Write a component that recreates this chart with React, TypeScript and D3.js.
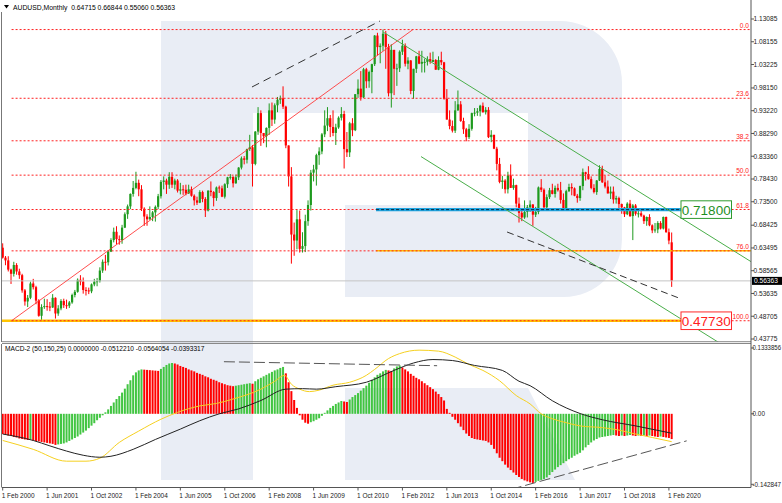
import React from 'react';
import * as d3 from 'd3';

// ---------- Monthly AUDUSD candles, Feb 2000 .. Mar 2020 ----------
const opens = [
  0.6355, 0.6140, 0.6080, 0.5880, 0.5790, 0.5980, 0.5840, 0.5760, 0.5430, 0.5190, 0.5270,
  0.5580, 0.5500, 0.5210, 0.4880, 0.5070, 0.5090, 0.5080, 0.5060, 0.5270, 0.4930, 0.5040, 0.5200,
  0.5110, 0.5100, 0.5170, 0.5330, 0.5400, 0.5660, 0.5620, 0.5440, 0.5430, 0.5410, 0.5560, 0.5620,
  0.5630, 0.5860, 0.6050, 0.6040, 0.6270, 0.6520, 0.6700, 0.6540, 0.6520, 0.6790, 0.7080, 0.7250,
  0.7520, 0.7650, 0.7760, 0.7620, 0.7200, 0.7030, 0.6970, 0.7020, 0.7120, 0.7240, 0.7470, 0.7780,
  0.7810, 0.7720, 0.7890, 0.7720, 0.7810, 0.7590, 0.7620, 0.7610, 0.7530, 0.7620, 0.7480, 0.7380,
  0.7330, 0.7560, 0.7410, 0.7160, 0.7590, 0.7560, 0.7430, 0.7660, 0.7640, 0.7460, 0.7730, 0.7880,
  0.7890, 0.7750, 0.7880, 0.8090, 0.8290, 0.8260, 0.8490, 0.8530, 0.8170, 0.8870, 0.9270, 0.8840,
  0.8770, 0.8950, 0.9330, 0.9130, 0.9440, 0.9560, 0.9590, 0.9410, 0.8570, 0.7900, 0.6640, 0.6510,
  0.6970, 0.6330, 0.6390, 0.6930, 0.7280, 0.7980, 0.8050, 0.8360, 0.8440, 0.8810, 0.9000, 0.9160,
  0.8970, 0.8840, 0.8960, 0.9170, 0.9250, 0.8490, 0.8420, 0.9050, 0.8900, 0.9680, 0.9800, 0.9610,
  1.0220, 0.9960, 1.0160, 1.0330, 1.0950, 1.0700, 1.0730, 1.0990, 1.0700, 0.9700, 1.0640, 1.0230,
  1.0240, 1.0600, 1.0730, 1.0340, 1.0410, 0.9750, 1.0230, 1.0500, 1.0340, 1.0380, 1.0380, 1.0440,
  1.0380, 1.0420, 1.0210, 1.0420, 1.0370, 0.9580, 0.9130, 0.8990, 0.8890, 0.9330, 0.9460, 0.9100,
  0.8920, 0.8750, 0.8930, 0.9270, 0.9280, 0.9310, 0.9430, 0.9290, 0.9340, 0.8750, 0.8800, 0.8500,
  0.8170, 0.7780, 0.7810, 0.7620, 0.7920, 0.7650, 0.7710, 0.7310, 0.7110, 0.7010, 0.7130, 0.7230,
  0.7290, 0.7070, 0.7130, 0.7660, 0.7610, 0.7230, 0.7450, 0.7600, 0.7520, 0.7650, 0.7600, 0.7390,
  0.7210, 0.7580, 0.7670, 0.7640, 0.7480, 0.7430, 0.7690, 0.7990, 0.7950, 0.7840, 0.7650, 0.7560,
  0.7810, 0.8060, 0.7770, 0.7680, 0.7530, 0.7570, 0.7400, 0.7430, 0.7300, 0.7230, 0.7080, 0.7310,
  0.7040, 0.7270, 0.7090, 0.7100, 0.7050, 0.6930, 0.7020, 0.6840, 0.6730, 0.6750, 0.6890, 0.6770,
  0.7020, 0.6690, 0.64715,
];
const highs = [
  0.6450, 0.6175, 0.6170, 0.5900, 0.6050, 0.6020, 0.5900, 0.5790, 0.5460, 0.5330, 0.5620,
  0.5680, 0.5530, 0.5240, 0.5130, 0.5250, 0.5240, 0.5180, 0.5350, 0.5280, 0.5110, 0.5240, 0.5250,
  0.5230, 0.5200, 0.5360, 0.5440, 0.5690, 0.5760, 0.5710, 0.5500, 0.5490, 0.5580, 0.5680, 0.5700,
  0.5930, 0.6100, 0.6200, 0.6300, 0.6560, 0.6790, 0.6820, 0.6620, 0.6850, 0.7120, 0.7290, 0.7530,
  0.7800, 0.8000, 0.7830, 0.7710, 0.7230, 0.7080, 0.7250, 0.7150, 0.7270, 0.7520, 0.7820, 0.7900,
  0.7850, 0.7990, 0.7990, 0.7850, 0.7840, 0.7760, 0.7710, 0.7720, 0.7720, 0.7680, 0.7510, 0.7460,
  0.7600, 0.7590, 0.7450, 0.7600, 0.7790, 0.7580, 0.7680, 0.7700, 0.7700, 0.7750, 0.7890, 0.7950,
  0.7900, 0.7940, 0.8100, 0.8330, 0.8340, 0.8500, 0.8800, 0.8580, 0.8880, 0.9400, 0.9330, 0.8840,
  0.8960, 0.9480, 0.9500, 0.9480, 0.9620, 0.9650, 0.9850, 0.9430, 0.8570, 0.8100, 0.6900, 0.7170,
  0.7160, 0.6690, 0.7070, 0.7380, 0.8040, 0.8150, 0.8390, 0.8530, 0.8840, 0.9330, 0.9400, 0.9230,
  0.9330, 0.9040, 0.9200, 0.9400, 0.9320, 0.8860, 0.9080, 0.9160, 0.9680, 1.0000, 1.0180, 1.0250,
  1.0250, 1.0190, 1.0340, 1.0960, 1.1010, 1.0780, 1.1080, 1.1050, 1.0770, 1.0760, 1.0640, 1.0340,
  1.0630, 1.0860, 1.0780, 1.0480, 1.0420, 1.0230, 1.0510, 1.0620, 1.0620, 1.0450, 1.0500, 1.0580,
  1.0600, 1.0440, 1.0500, 1.0600, 1.0380, 0.9790, 0.9330, 0.9110, 0.9530, 0.9760, 0.9530, 0.9170,
  0.8950, 0.9030, 0.9280, 0.9380, 0.9380, 0.9450, 0.9500, 0.9400, 0.9400, 0.8900, 0.8800, 0.8540,
  0.8300, 0.7910, 0.7840, 0.8000, 0.8160, 0.7850, 0.7720, 0.7440, 0.7160, 0.7380, 0.7280, 0.7380,
  0.7300, 0.7240, 0.7680, 0.7840, 0.7640, 0.7510, 0.7650, 0.7740, 0.7700, 0.7740, 0.7780, 0.7530,
  0.7610, 0.7740, 0.7750, 0.7660, 0.7520, 0.7700, 0.8070, 0.8000, 0.8120, 0.7900, 0.7730, 0.7820,
  0.8140, 0.8130, 0.7920, 0.7810, 0.7680, 0.7680, 0.7480, 0.7460, 0.7310, 0.7240, 0.7340, 0.7390,
  0.7300, 0.7300, 0.7190, 0.7210, 0.7070, 0.7030, 0.7080, 0.6860, 0.6890, 0.6930, 0.6930, 0.7030,
  0.7030, 0.6770, 0.66844,
];
const lows = [
  0.6120, 0.5975, 0.5840, 0.5570, 0.5730, 0.5770, 0.5680, 0.5380, 0.5100, 0.5070, 0.5240,
  0.5450, 0.5130, 0.4860, 0.4773, 0.5030, 0.4990, 0.4980, 0.5050, 0.4820, 0.4880, 0.5000, 0.5050,
  0.5030, 0.5050, 0.5140, 0.5280, 0.5380, 0.5540, 0.5360, 0.5320, 0.5350, 0.5370, 0.5520, 0.5520,
  0.5600, 0.5810, 0.5860, 0.5970, 0.6260, 0.6470, 0.6430, 0.6420, 0.6440, 0.6780, 0.6980, 0.7190,
  0.7460, 0.7620, 0.7470, 0.7150, 0.6830, 0.6830, 0.6960, 0.6930, 0.6920, 0.7190, 0.7420, 0.7620,
  0.7520, 0.7630, 0.7650, 0.7620, 0.7550, 0.7510, 0.7500, 0.7490, 0.7520, 0.7460, 0.7270, 0.7280,
  0.7320, 0.7340, 0.7020, 0.7140, 0.7470, 0.7250, 0.7370, 0.7540, 0.7450, 0.7420, 0.7650, 0.7830,
  0.7660, 0.7740, 0.7820, 0.8050, 0.8160, 0.8180, 0.8450, 0.7680, 0.8140, 0.8800, 0.8560, 0.8620,
  0.8530, 0.8800, 0.8990, 0.9040, 0.9290, 0.9470, 0.9360, 0.8510, 0.7680, 0.6010, 0.6180, 0.6320,
  0.6250, 0.6250, 0.6260, 0.6830, 0.7160, 0.7790, 0.7700, 0.8150, 0.8380, 0.8750, 0.8880, 0.8750,
  0.8770, 0.8580, 0.8930, 0.9110, 0.8070, 0.8320, 0.8320, 0.8770, 0.8880, 0.9600, 0.9540, 0.9600,
  0.9810, 0.9820, 0.9700, 1.0290, 1.0520, 1.0350, 1.0620, 1.0230, 0.9630, 0.9390, 0.9660, 0.9860,
  1.0160, 1.0530, 1.0280, 1.0220, 0.9680, 0.9580, 1.0140, 1.0330, 1.0150, 1.0150, 1.0300, 1.0340,
  1.0380, 1.0210, 1.0200, 1.0310, 0.9560, 0.9130, 0.8920, 0.8850, 0.8840, 0.9320, 0.9080, 0.8820,
  0.8660, 0.8710, 0.8890, 0.9200, 0.9210, 0.9200, 0.9280, 0.9240, 0.8730, 0.8640, 0.8490, 0.8030,
  0.7750, 0.7630, 0.7530, 0.7530, 0.7650, 0.7610, 0.7230, 0.6900, 0.6930, 0.6980, 0.7010, 0.7130,
  0.6830, 0.7020, 0.7080, 0.7560, 0.7150, 0.7150, 0.7410, 0.7510, 0.7440, 0.7570, 0.7310, 0.7160,
  0.7180, 0.7560, 0.7490, 0.7470, 0.7330, 0.7370, 0.7600, 0.7810, 0.7830, 0.7620, 0.7530, 0.7500,
  0.7800, 0.7760, 0.7640, 0.7530, 0.7410, 0.7310, 0.7310, 0.7200, 0.7090, 0.7020, 0.7060, 0.7020,
  0.6520, 0.7050, 0.7010, 0.7020, 0.6870, 0.6830, 0.6820, 0.6670, 0.6680, 0.6670, 0.6750, 0.6750,
  0.6680, 0.6430, 0.55060,
];
const closes = [
  0.6140, 0.6080, 0.5880, 0.5790, 0.5980, 0.5840, 0.5760, 0.5430, 0.5190, 0.5270, 0.5580,
  0.5500, 0.5210, 0.4880, 0.5070, 0.5090, 0.5080, 0.5060, 0.5270, 0.4930, 0.5040, 0.5200, 0.5110,
  0.5100, 0.5170, 0.5330, 0.5400, 0.5660, 0.5620, 0.5440, 0.5430, 0.5410, 0.5560, 0.5620, 0.5630,
  0.5860, 0.6050, 0.6040, 0.6270, 0.6520, 0.6700, 0.6540, 0.6520, 0.6790, 0.7080, 0.7250, 0.7520,
  0.7650, 0.7760, 0.7620, 0.7200, 0.7030, 0.6970, 0.7020, 0.7120, 0.7240, 0.7470, 0.7780, 0.7810,
  0.7720, 0.7890, 0.7720, 0.7810, 0.7590, 0.7620, 0.7610, 0.7530, 0.7620, 0.7480, 0.7380, 0.7330,
  0.7560, 0.7410, 0.7160, 0.7590, 0.7560, 0.7430, 0.7660, 0.7640, 0.7460, 0.7730, 0.7880, 0.7890,
  0.7750, 0.7880, 0.8090, 0.8290, 0.8260, 0.8490, 0.8530, 0.8170, 0.8870, 0.9270, 0.8840, 0.8770,
  0.8950, 0.9330, 0.9130, 0.9440, 0.9560, 0.9590, 0.9410, 0.8570, 0.7900, 0.6640, 0.6510, 0.6970,
  0.6330, 0.6390, 0.6930, 0.7280, 0.7980, 0.8050, 0.8360, 0.8440, 0.8810, 0.9000, 0.9160, 0.8970,
  0.8840, 0.8960, 0.9170, 0.9250, 0.8490, 0.8420, 0.9050, 0.8900, 0.9680, 0.9800, 0.9610, 1.0220,
  0.9960, 1.0160, 1.0330, 1.0950, 1.0700, 1.0730, 1.0990, 1.0700, 0.9700, 1.0640, 1.0230, 1.0240,
  1.0600, 1.0730, 1.0340, 1.0410, 0.9750, 1.0230, 1.0500, 1.0340, 1.0380, 1.0380, 1.0440, 1.0380,
  1.0420, 1.0210, 1.0420, 1.0370, 0.9580, 0.9130, 0.8990, 0.8890, 0.9330, 0.9460, 0.9100, 0.8920,
  0.8750, 0.8930, 0.9270, 0.9280, 0.9310, 0.9430, 0.9290, 0.9340, 0.8750, 0.8800, 0.8500, 0.8170,
  0.7780, 0.7810, 0.7620, 0.7920, 0.7650, 0.7710, 0.7310, 0.7110, 0.7010, 0.7130, 0.7230, 0.7290,
  0.7070, 0.7130, 0.7660, 0.7610, 0.7230, 0.7450, 0.7600, 0.7520, 0.7650, 0.7600, 0.7390, 0.7210,
  0.7580, 0.7670, 0.7640, 0.7480, 0.7430, 0.7690, 0.7990, 0.7950, 0.7840, 0.7650, 0.7560, 0.7810,
  0.8060, 0.7770, 0.7680, 0.7530, 0.7570, 0.7400, 0.7430, 0.7300, 0.7230, 0.7080, 0.7310, 0.7040,
  0.7270, 0.7090, 0.7100, 0.7050, 0.6930, 0.7020, 0.6840, 0.6730, 0.6750, 0.6890, 0.6770, 0.7020,
  0.6690, 0.6510, 0.56363,
];

// ---------- MACD-2 (50,150,25) histogram, one value per month ----------
const histValues = [
  -0.041, -0.042, -0.044, -0.045, -0.047, -0.048, -0.050, -0.051, -0.052, -0.053,
  -0.052, -0.054, -0.055, -0.056, -0.057, -0.058, -0.059, -0.060, -0.061, -0.063,
  -0.062, -0.061, -0.060, -0.058, -0.055, -0.052, -0.049, -0.046, -0.042, -0.038,
  -0.034, -0.029, -0.024, -0.019, -0.013, -0.008, -0.003, 0.003, 0.009, 0.016,
  0.023, 0.030, 0.036, 0.043, 0.051, 0.060, 0.068, 0.078, 0.084, 0.088,
  0.090, 0.0895, 0.089, 0.0885, 0.088, 0.0875, 0.087, 0.091, 0.095, 0.099,
  0.102, 0.103, 0.102, 0.100, 0.097, 0.095, 0.093, 0.090, 0.088, 0.086,
  0.083, 0.081, 0.079, 0.076, 0.074, 0.071, 0.069, 0.067, 0.064, 0.062,
  0.060, 0.058, 0.057, 0.056, 0.057, 0.058, 0.059, 0.060, 0.061, 0.062,
  0.061, 0.066, 0.070, 0.073, 0.076, 0.079, 0.082, 0.085, 0.088, 0.090,
  0.093, 0.095, 0.082, 0.064, 0.046, 0.028, 0.012, -0.003, -0.012, -0.018,
  -0.020, -0.017, -0.015, -0.012, -0.009, -0.004, 0.002, 0.007, 0.012, 0.016,
  0.020, 0.023, 0.026, 0.025, 0.024, 0.029, 0.034, 0.038, 0.042, 0.047,
  0.052, 0.057, 0.063, 0.069, 0.074, 0.079, 0.082, 0.086, 0.089, 0.088,
  0.087, 0.092, 0.096, 0.098, 0.094, 0.090, 0.086, 0.081, 0.077, 0.073,
  0.070, 0.066, 0.062, 0.058, 0.054, 0.050, 0.045, 0.040, 0.034, 0.027,
  0.010, 0.002, -0.006, -0.012, -0.019, -0.026, -0.033, -0.040, -0.045, -0.049,
  -0.051, -0.052, -0.053, -0.054, -0.055, -0.058, -0.063, -0.071, -0.080, -0.089,
  -0.096, -0.103, -0.109, -0.114, -0.119, -0.124, -0.128, -0.132, -0.135, -0.137,
  -0.139, -0.140, -0.138, -0.136, -0.134, -0.132, -0.129, -0.124, -0.118, -0.113,
  -0.108, -0.104, -0.100, -0.096, -0.092, -0.089, -0.085, -0.082, -0.079, -0.074,
  -0.068, -0.063, -0.058, -0.054, -0.051, -0.048, -0.047, -0.046, -0.045, -0.044,
  -0.043, -0.044, -0.045, -0.044, -0.045, -0.044, -0.043, -0.044, -0.045, -0.044,
  -0.045, -0.044, -0.045, -0.044, -0.045, -0.046, -0.047, -0.046, -0.047, -0.048,
  -0.049, -0.0512,
];
// MACD lines, sampled months
const blackIdx = [0, 11, 17, 23, 29, 35, 39, 47, 55, 64, 71, 78, 85, 93, 102, 108, 113, 120, 131, 141, 148, 155, 162, 170, 180, 186, 190, 198, 208, 216, 228, 241];
const blackVals = [-0.041, -0.054, -0.065, -0.0755, -0.084, -0.088, -0.086, -0.072, -0.052, -0.031, -0.014, 0.0, 0.010, 0.027, 0.050, 0.051, 0.050, 0.055, 0.064, 0.088, 0.103, 0.110, 0.108, 0.098, 0.088, 0.066, 0.057, 0.0265, 0.0006, -0.012, -0.0245, -0.0393];
const yellowIdx = [0, 11, 23, 30, 35, 42, 49, 57, 63, 71, 77, 83, 93, 98, 101.5, 104, 107, 110.5, 114, 119, 125, 131, 134, 139, 143, 150, 157, 163, 168, 173, 179, 185, 190, 194, 198, 203, 208, 216, 222, 228, 234, 241];
const yellowVals = [-0.054, -0.072, -0.096, -0.096, -0.090, -0.058, -0.035, -0.011, 0.003, 0.016, 0.021, 0.030, 0.050, 0.066, 0.078, 0.060, 0.050, 0.045, 0.048, 0.058, 0.064, 0.078, 0.090, 0.112, 0.122, 0.129, 0.127, 0.115, 0.100, 0.088, 0.067, 0.037, 0.020, 0.0, -0.010, -0.018, -0.0245, -0.028, -0.033, -0.041, -0.048, -0.0564];

// ---------- axis ticks ----------
const priceTicks = [1.13085, 1.08155, 1.03225, 0.98150, 0.93220, 0.88290, 0.83360, 0.78430, 0.73500, 0.68425, 0.63495, 0.58565, 0.53635, 0.48705, 0.43775];
const dateIdx = [0, 16, 32, 48, 64, 80, 96, 112, 128, 144, 160, 176, 192, 208, 224, 240];
const dateLabels = ['1 Feb 2000', '1 Jun 2001', '1 Oct 2002', '1 Feb 2004', '1 Jun 2005', '1 Oct 2006', '1 Feb 2008', '1 Jun 2009', '1 Oct 2010', '1 Feb 2012', '1 Jun 2013', '1 Oct 2014', '1 Feb 2016', '1 Jun 2017', '1 Oct 2018', '1 Feb 2020'];
const macdTicks = [0.1333856, 0, -0.142847];
const macdTickLabels = ['0.1333856', '0.00', '-0.142847'];

// ---------- analysis objects ----------
const fibLevels = [0, 23.6, 38.2, 50, 61.8, 76, 100];
const fibHigh = 1.108;
const fibLow = 0.4773;
const fibAnchors = [{ i: 3.2, p: 0.4773 }, { i: 147.8, p: 1.108 }];
const supportLevel = 0.718;
const lastPrice = 0.56363;
const titleText = 'AUDUSD,Monthly  0.64715 0.66844 0.55060 0.56363';
const macdTitle = 'MACD-2 (50,150,25) 0.0000000 -0.0512210 -0.0564054 -0.0393317';
const dashTop = [{ i: 89.8, p: 0.9836 }, { i: 135.9, p: 1.1265 }];
const dashLow = [{ i: 181.7, p: 0.6695 }, { i: 243.6, p: 0.5265 }];
const greenUpper = [{ i: 193.6, p: 0.8904 }, { i: 244, p: 0.7013 }];
const greenLower = [{ i: 171.9, p: 0.7533 }, { i: 244, p: 0.4826 }];
const macdDashTop = [{ i: 79.7, p: 0.1056 }, { i: 156.5, p: 0.0975 }];
const macdDashLow = [{ i: 186.4, p: -0.148 }, { i: 246.4, p: -0.0548 }];

const FONT = 'Liberation Sans, Arial, sans-serif';
const GREEN = '#1e9a1e';
const RED = '#ff0000';
const HGREEN = '#42c542';

export default function App() {
  const L = 2, R = 751, MT = 12, MB = 342, HT = 344, HB = 487.5;
  const x = d3.scaleLinear().domain([0, 240]).range([2.7, 668.9]);
  const y = d3.scaleLinear().domain([0.43775, 1.13085]).range([339, 19]);
  const ym = d3.scaleLinear().domain([-0.142847, 0.1333856]).range([484.3, 348]);
  const iR = x.invert(R);

  const seg = (a: any, b: any, i0: number, i1: number, sc: any) => {
    const s = (b.p - a.p) / (b.i - a.i);
    return { x1: x(i0), y1: sc(a.p + s * (i0 - a.i)), x2: x(i1), y2: sc(a.p + s * (i1 - a.i)) };
  };
  const fibP = (lvl: number) => fibHigh - (lvl / 100) * (fibHigh - fibLow);

  const blackPath = d3.line<number>().x((_, k) => x(blackIdx[k])).y((d) => ym(d)).curve(d3.curveMonotoneX)(blackVals) || '';
  const yellowPath = d3.line<number>().x((_, k) => x(yellowIdx[k])).y((d) => ym(d)).curve(d3.curveMonotoneX)(yellowVals) || '';

  const fibLine = seg(fibAnchors[0], fibAnchors[1], fibAnchors[0].i, fibAnchors[1].i, y);
  const dT = seg(dashTop[0], dashTop[1], dashTop[0].i, dashTop[1].i, y);
  const dL = seg(dashLow[0], dashLow[1], dashLow[0].i, dashLow[1].i, y);
  const gU = seg(greenUpper[0], greenUpper[1], 137, iR, y);
  const gL = seg(greenLower[0], greenLower[1], 150.7, 262, y);
  const mT = seg(macdDashTop[0], macdDashTop[1], macdDashTop[0].i, macdDashTop[1].i, ym);
  const mL = seg(macdDashLow[0], macdDashLow[1], 183, macdDashLow[1].i, ym);

  const boxX = 681, boxW = 50.5, boxH = 17.6;
  const objStart = x(134.5);
  const ySup = y(supportLevel);
  const yLow = y(fibLow);
  const y76 = y(fibP(76));

  return (
    <svg width={782} height={503} style={{ position: 'absolute', left: 0, top: 0, background: '#fff' }} fontFamily={FONT}>
      <defs>
        <clipPath id="main"><rect x={L} y={0} width={R - L} height={MB} /></clipPath>
        <clipPath id="macd"><rect x={L} y={HT} width={R - L} height={HB - HT} /></clipPath>
      </defs>
      <rect x={0} y={0} width={782} height={503} fill="#fff" />
      {/* watermark */}
      <path d="M161,21 H560 A62,62 0 0 1 622,83 V239 A58,58 0 0 1 564,297 H345 V205 H528 V113 H253 V480 H161 Z" fill="#e9edf5" />
      <path d="M345,388 H528 L575,480 H345 Z" fill="#e9edf5" />

      {/* ---- main panel ---- */}
      <g clipPath="url(#main)">
        {closes.map((c, i) => {
          const o = opens[i];
          const col = c >= o ? GREEN : RED;
          const cx = x(i);
          const top = y(Math.max(o, c));
          const bot = y(Math.min(o, c));
          return (
            <g key={i}>
              <line x1={cx} x2={cx} y1={y(highs[i])} y2={y(lows[i])} stroke={col} strokeWidth={1} />
              <rect x={cx - 1.1} y={top} width={2.2} height={Math.max(1, bot - top)} fill={col} />
            </g>
          );
        })}
        <line x1={L} x2={R} y1={y(lastPrice)} y2={y(lastPrice)} stroke="#c4c4c4" strokeWidth={1} />
        <line x1={L} x2={boxX} y1={yLow} y2={yLow} stroke="#ffc400" strokeWidth={2.5} />
        <line x1={objStart} x2={R} y1={y76} y2={y76} stroke="#ffc400" strokeWidth={1.5} />
        {fibLevels.map((lv) => {
          const ly = y(fibP(lv));
          return (
            <g key={lv}>
              <line x1={x(fibAnchors[0].i)} x2={R} y1={ly} y2={ly} stroke="#ff2020" strokeWidth={1} strokeDasharray="2 2" />
              <text x={749} y={ly - 1.8} fontSize={6.6} fill="#ff2020" textAnchor="end">{lv.toFixed(1)}</text>
            </g>
          );
        })}
        <line {...fibLine} stroke="#ff3030" strokeWidth={1} strokeOpacity={0.85} />
        <line x1={objStart} x2={boxX} y1={ySup} y2={ySup} stroke="#1ea4e0" strokeWidth={3.2} />
        <line x1={objStart} x2={boxX} y1={ySup} y2={ySup} stroke="#0a2a40" strokeWidth={1} strokeDasharray="3 2" />
        <line {...gU} stroke="#4aae4a" strokeWidth={1} />
        <line {...gL} stroke="#4aae4a" strokeWidth={1} />
        <line {...dT} stroke="#333" strokeWidth={1} strokeDasharray="8 5" />
        <line {...dL} stroke="#333" strokeWidth={1} strokeDasharray="7 4" />
      </g>
      <rect x={boxX} y={ySup - boxH / 2} width={boxW} height={boxH} fill="#fff" stroke="#2e9a2e" strokeWidth={1} />
      <text x={boxX + boxW / 2} y={ySup + 5} fontSize={13.5} fill="#1f8f1f" textAnchor="middle">{supportLevel.toFixed(5)}</text>
      <rect x={boxX} y={yLow - boxH / 2} width={boxW} height={boxH} fill="#fff" stroke="#ff2a2a" strokeWidth={1} />
      <text x={boxX + boxW / 2} y={yLow + 5} fontSize={13.5} fill="#ff2020" textAnchor="middle">{fibLow.toFixed(5)}</text>

      <polygon points="4,5 9,5 6.5,8.5" fill="#000" />
      <text x={13} y={10} fontSize={6.8} fill="#000" style={{ whiteSpace: 'pre' }}>{titleText}</text>

      {/* ---- MACD panel ---- */}
      <g clipPath="url(#macd)">
        {histValues.map((v, i) => {
          const col = i > 0 && v > histValues[i - 1] ? HGREEN : RED;
          const y0 = ym(0), y1 = ym(v);
          return <rect key={i} x={x(i) - 1} y={Math.min(y0, y1)} width={2} height={Math.abs(y1 - y0)} fill={col} />;
        })}
        <path d={yellowPath} fill="none" stroke="#f5d020" strokeWidth={1} />
        <path d={blackPath} fill="none" stroke="#222" strokeWidth={1} />
        <line {...mT} stroke="#555" strokeWidth={1} strokeDasharray="11 4" />
        <line {...mL} stroke="#555" strokeWidth={1} strokeDasharray="11 4" />
      </g>
      <text x={5} y={351} fontSize={6.6} fill="#000">{macdTitle}</text>

      {/* frames */}
      <line x1={1.5} x2={1.5} y1={MT} y2={MB} stroke="#777" />
      <line x1={1.5} x2={1.5} y1={HT} y2={HB} stroke="#777" />
      <line x1={L} x2={R} y1={MB - 0.3} y2={MB - 0.3} stroke="#888" />
      <line x1={L} x2={R} y1={HT - 0.5} y2={HT - 0.5} stroke="#888" />
      <line x1={L} x2={R} y1={HB} y2={HB} stroke="#555" />
      <line x1={R} x2={R} y1={0} y2={HB} stroke="#555" />

      {priceTicks.map((p) => (
        <g key={p}>
          <line x1={R} x2={R + 3} y1={y(p)} y2={y(p)} stroke="#555" />
          <text x={753.5} y={y(p) + 2.3} fontSize={6.6} fill="#222">{p.toFixed(5)}</text>
        </g>
      ))}
      <rect x={752} y={y(lastPrice) - 4} width={30} height={8} fill="#000" />
      <text x={754} y={y(lastPrice) + 2.4} fontSize={6.6} fill="#fff">{lastPrice.toFixed(5)}</text>

      {macdTicks.map((v, k) => (
        <g key={k}>
          <line x1={R} x2={R + 3} y1={ym(v)} y2={ym(v)} stroke="#555" />
          <text x={752.5} y={ym(v) + 2.3} fontSize={6.4} fill="#222"
            textLength={macdTickLabels[k].length > 5 ? 28.5 : undefined}
            lengthAdjust="spacingAndGlyphs">{macdTickLabels[k]}</text>
        </g>
      ))}

      {dateIdx.map((d, k) => (
        <g key={d}>
          <line x1={x(d)} x2={x(d)} y1={HB} y2={HB + 3} stroke="#555" />
          <text x={x(d) - 1} y={497.5} fontSize={6.5} fill="#222">{dateLabels[k]}</text>
        </g>
      ))}
    </svg>
  );
}
